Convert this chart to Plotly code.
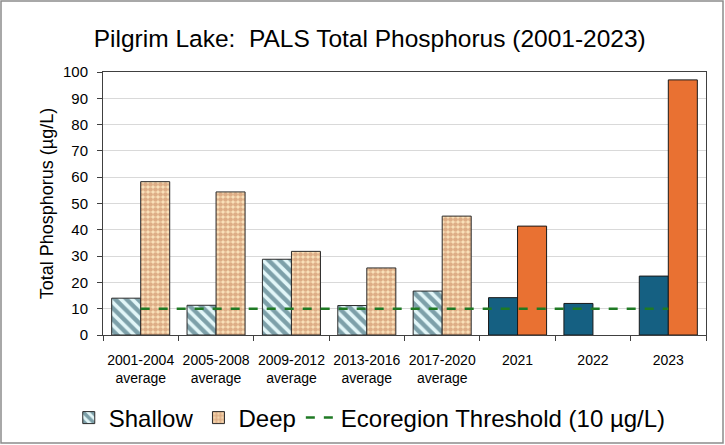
import plotly.graph_objects as go

categories = ["2001-2004<br>average", "2005-2008<br>average", "2009-2012<br>average",
              "2013-2016<br>average", "2017-2020<br>average", "2021", "2022", "2023"]
shallow_avg = [14.0, 11.3, 28.8, 11.2, 16.7]
deep_avg = [58.3, 54.4, 31.8, 25.5, 45.2]
shallow_year = [14.2, 12.0, 22.4]
deep_year = [41.4, None, 97.0]
threshold = [10] * len(categories)

avg_cats = categories[:5]
year_cats = categories[5:]

L, R, T, B = 103, 19, 72, 110
W, H = 725, 445
pw, ph = W - L - R, H - T - B

def px_x(x):
    return (x - L) / pw

def px_y(y):
    return (H - B - y) / ph

FONT = "Liberation Sans, Arial, sans-serif"

fig = go.Figure()
fig.add_trace(go.Bar(
    x=avg_cats, y=shallow_avg, name="Shallow", offsetgroup="s",
    marker=dict(color="#e2f6f8", line=dict(color="#2b2b2b", width=1),
                pattern=dict(shape="\\", fgcolor="#184a59", bgcolor="#e2f6f8",
                             size=8, solidity=0.55, fillmode="overlay")),
))
fig.add_trace(go.Bar(
    x=avg_cats, y=deep_avg, name="Deep", offsetgroup="d",
    marker=dict(color="#fbe4bc", line=dict(color="#2b2b2b", width=1),
                pattern=dict(shape=".", fgcolor="#bf7550", bgcolor="#fbe4bc",
                             size=5, solidity=0.7, fillmode="overlay")),
))
fig.add_trace(go.Bar(
    x=year_cats, y=shallow_year, name="Shallow", offsetgroup="s", showlegend=False,
    marker=dict(color="#156082", line=dict(color="#1a1a1a", width=1)),
))
fig.add_trace(go.Bar(
    x=year_cats, y=deep_year, name="Deep", offsetgroup="d", showlegend=False,
    marker=dict(color="#e97132", line=dict(color="#1a1a1a", width=1)),
))
fig.add_trace(go.Scatter(
    x=categories, y=threshold, mode="lines", name="Ecoregion Threshold (10 µg/L)",
    line=dict(color="#1f7a24", width=2.5, dash="dash"),
))

fig.add_shape(type="rect", xref="paper", yref="paper",
              x0=px_x(1), x1=px_x(723), y0=px_y(443), y1=px_y(1),
              line=dict(color="#8c8c8c", width=1.5), layer="below")

fig.update_layout(
    width=W, height=H,
    margin=dict(l=L, r=R, t=T, b=B, autoexpand=False),
    paper_bgcolor="white", plot_bgcolor="white",
    barmode="group", bargap=0.23, bargroupgap=0,
    font=dict(family=FONT, color="#1a1a1a"),
    title=dict(text="Pilgrim Lake:  PALS Total Phosphorus (2001-2023)",
               x=0.51, xref="container", xanchor="center",
               y=1 - 38 / H, yref="container", yanchor="middle",
               font=dict(size=24.5, color="#000000", family=FONT)),
    legend=dict(orientation="h", xref="container", x=0.51, xanchor="center",
                yref="container", y=(H - 418) / H, yanchor="middle",
                font=dict(size=24, color="#000000", family=FONT), itemwidth=30,
                traceorder="normal"),
    showlegend=True,
)
fig.update_xaxes(
    type="category", categoryorder="array", categoryarray=categories,
    showline=True, linecolor="#404040", linewidth=1, mirror=True,
    ticks="outside", tickson="boundaries", ticklen=5, tickcolor="#404040",
    tickangle=0, automargin=False, ticklabelstandoff=12,
    tickfont=dict(size=14, color="#000000", family=FONT), showgrid=False,
)
fig.update_yaxes(
    range=[0, 100], dtick=10, showline=True, linecolor="#404040", linewidth=1,
    mirror=True, ticks="outside", ticklen=5, tickcolor="#404040",
    showgrid=True, gridcolor="#d9d9d9", gridwidth=1, automargin=False,
    ticklabelstandoff=6,
    tickfont=dict(size=15, color="#000000", family=FONT),
    title=dict(text="Total Phosphorus (µg/L)",
               font=dict(size=18, color="#000000", family=FONT),
               standoff=4),
    zeroline=False,
)

fig.write_html("out.html", config={"displayModeBar": False},
               post_script="document.body.style.margin='0';document.body.style.overflow='hidden';")
